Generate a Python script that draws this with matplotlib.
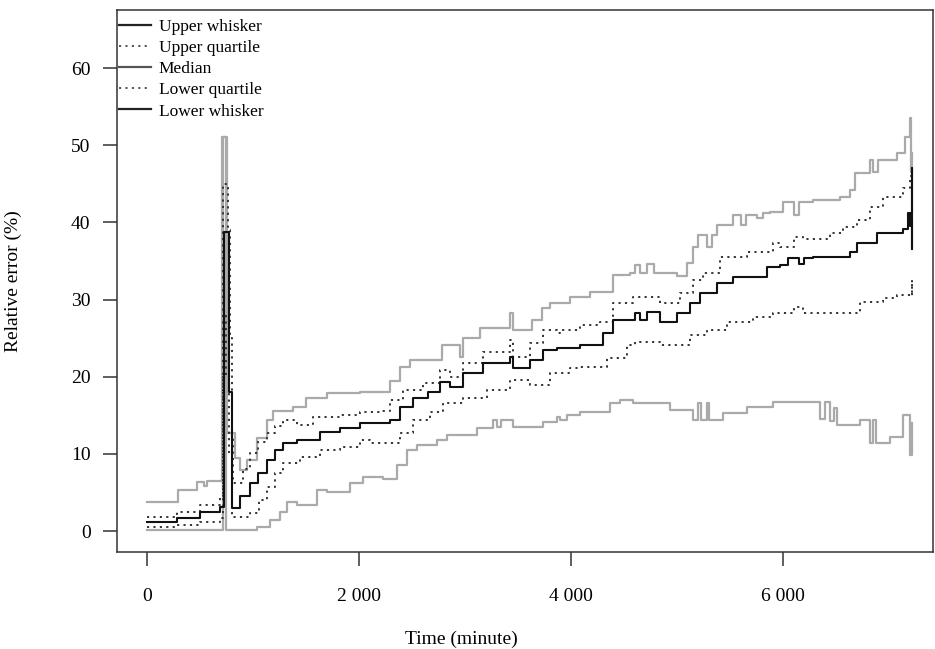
import matplotlib
matplotlib.use("Agg")
import matplotlib.pyplot as plt
from matplotlib.lines import Line2D

# step data: time (minute) -> relative error (%)
uw_t = [0, 292, 472, 540, 566, 708, 755, 830, 877, 943, 1040, 1132, 1189, 1377,
        1500, 1698, 2009, 2292, 2387, 2481, 2783, 2953, 2981, 3142, 3425, 3453,
        3632, 3726, 3802, 3991, 4179, 4396, 4557, 4600, 4650, 4717, 4780, 5000,
        5094, 5151, 5198, 5283, 5330, 5377, 5528, 5600, 5650, 5750, 5811, 5880,
        6000, 6100, 6150, 6283, 6538, 6632, 6679, 6821, 6850, 6900, 7075, 7151,
        7198, 7212, 7220]
uw_v = [3.8, 5.3, 6.3, 5.8, 6.5, 51.0, 12.7, 9.5, 7.9, 9.2, 12.0, 14.4, 15.5, 16.1,
        17.2, 17.9, 18.0, 19.5, 21.2, 22.2, 24.1, 22.6, 25.0, 26.3, 28.2, 26.0,
        27.3, 28.9, 29.5, 30.3, 31.0, 33.2, 33.4, 34.5, 33.4, 34.6, 33.4, 33.0,
        34.7, 36.8, 38.3, 36.8, 38.3, 39.6, 40.9, 39.6, 40.9, 40.5, 41.2, 41.3,
        42.6, 41.0, 42.6, 42.9, 43.3, 44.2, 46.4, 48.1, 46.5, 48.1, 49.0, 51.0,
        53.5, 46.5, 49.0]

uq_t = [0, 283, 500, 689, 717, 764, 783, 802, 811, 906, 972, 1050, 1132, 1210,
        1283, 1415, 1566, 1821, 2009, 2200, 2292, 2415, 2604, 2764, 2858, 2981,
        3170, 3425, 3453, 3613, 3736, 3868, 3896, 4085, 4274, 4396, 4585, 4840,
        5028, 5151, 5245, 5406, 5660, 5906, 5972, 6100, 6189, 6443, 6566, 6698,
        6821, 6943, 7132, 7200, 7214, 7220]
uq_v = [1.8, 2.5, 3.4, 4.3, 45.0, 39.0, 25.0, 12.0, 6.2, 8.0, 10.1, 11.5, 12.7, 13.6,
        14.4, 13.7, 14.8, 15.0, 15.4, 15.5, 17.0, 18.3, 19.2, 20.9, 20.0, 21.8,
        23.2, 24.7, 22.5, 24.4, 26.0, 25.6, 26.0, 26.7, 27.1, 29.5, 30.3, 29.5,
        30.8, 32.5, 33.5, 35.5, 36.1, 37.3, 36.8, 38.1, 37.9, 38.6, 39.4, 40.3,
        42.0, 43.3, 44.4, 46.0, 41.0, 44.0]

md_t = [0, 283, 500, 689, 727, 774, 802, 877, 972, 1047, 1132, 1208, 1283, 1415,
        1632, 1821, 2009, 2292, 2387, 2509, 2650, 2764, 2858, 2981, 3170, 3425,
        3453, 3613, 3736, 3868, 4085, 4302, 4396, 4600, 4650, 4717, 4840, 5000,
        5123, 5217, 5377, 5528, 5849, 5972, 6050, 6150, 6200, 6283, 6632, 6698,
        6887, 7132, 7180, 7200, 7210, 7215, 7218, 7220]
md_v = [1.2, 1.7, 2.5, 3.1, 38.7, 18.0, 3.0, 4.5, 6.2, 7.5, 9.2, 10.5, 11.4, 11.8,
        12.8, 13.3, 14.0, 14.4, 16.1, 17.2, 18.0, 19.3, 18.7, 20.5, 21.8, 22.5,
        21.1, 22.2, 23.4, 23.7, 24.1, 25.6, 27.3, 28.2, 27.3, 28.4, 27.1, 28.2,
        29.5, 30.8, 32.1, 32.9, 34.2, 34.5, 35.4, 34.6, 35.4, 35.5, 36.1, 37.3,
        38.6, 39.2, 41.2, 39.5, 41.2, 47.0, 36.5, 40.0]

lq_t = [0, 283, 500, 689, 717, 745, 774, 802, 972, 1060, 1132, 1210, 1283, 1443,
        1632, 1821, 2009, 2100, 2387, 2509, 2670, 2792, 2981, 3208, 3425, 3613,
        3802, 3991, 4085, 4340, 4528, 4600, 4840, 5123, 5283, 5472, 5717, 5906,
        6100, 6189, 6726, 6943, 7075, 7214, 7220]
lq_v = [0.5, 0.8, 1.2, 1.7, 20.0, 28.0, 10.0, 1.8, 2.3, 4.0, 5.7, 7.5, 8.8, 9.6,
        10.5, 10.9, 11.8, 11.4, 12.7, 14.4, 15.4, 16.6, 17.2, 18.3, 19.6, 18.9,
        20.5, 21.1, 21.2, 22.4, 24.1, 24.5, 24.1, 25.4, 26.0, 27.1, 27.7, 28.2,
        29.0, 28.2, 29.7, 30.2, 30.6, 32.5, 30.3]

lw_t = [0, 717, 745, 1038, 1160, 1255, 1321, 1415, 1604, 1700, 1915, 2038, 2226,
        2358, 2453, 2547, 2736, 2830, 3113, 3264, 3300, 3340, 3453, 3736, 3868,
        3896, 3962, 4085, 4368, 4462, 4585, 4934, 5151, 5200, 5230, 5280, 5300,
        5434, 5660, 5906, 6349, 6400, 6443, 6480, 6509, 6726, 6821, 6850, 6880,
        7009, 7132, 7200, 7220]
lw_v = [0.1, 51.0, 0.1, 0.5, 1.4, 2.5, 3.8, 3.4, 5.3, 5.0, 6.2, 7.0, 6.8,
        8.5, 10.5, 11.1, 11.8, 12.4, 13.3, 14.4, 13.5, 14.4, 13.5, 14.1, 14.8,
        14.4, 15.0, 15.4, 16.6, 17.0, 16.6, 15.7, 14.4, 16.6, 14.4, 16.6, 14.4,
        15.3, 16.1, 16.7, 14.5, 16.7, 14.2, 16.0, 13.7, 14.4, 11.4, 14.4, 11.4,
        12.2, 15.0, 9.8, 14.0]

x_ticks = [0, 2000, 4000, 6000]
x_tick_labels = ["0", "2 000", "4 000", "6 000"]
y_ticks = [0, 10, 20, 30, 40, 50, 60]
legend_labels = ["Upper whisker", "Upper quartile", "Median",
                 "Lower quartile", "Lower whisker"]


def main():
    plt.rcParams["font.family"] = ["Liberation Serif", "DejaVu Serif"]

    fig = plt.figure(figsize=(9.35, 6.49), dpi=100)
    ax = fig.add_axes([117 / 935, 1 - 552 / 649, 816 / 935, 542 / 649])

    gray = "#aaaaaa"
    dots = (0, (1.1, 2.2))
    ax.step(lw_t, lw_v, where="post", color=gray, lw=1.6)
    ax.step(uw_t, uw_v, where="post", color=gray, lw=1.6)
    ax.step(lq_t, lq_v, where="post", color="#333333", lw=1.4, linestyle=dots)
    ax.step(uq_t, uq_v, where="post", color="#333333", lw=1.4, linestyle=dots)
    ax.step(md_t, md_v, where="post", color="#111111", lw=1.5)

    ax.set_xlim(-283, 7415)
    ax.set_ylim(-2.72, 67.52)

    ax.set_xticks(x_ticks)
    ax.set_xticklabels(x_tick_labels)
    ax.set_yticks(y_ticks)
    ax.tick_params(direction="out", length=10, width=1.1, color="#333333",
                   labelsize=14)
    ax.tick_params(axis="x", pad=16)
    ax.tick_params(axis="y", pad=9)

    for sp in ax.spines.values():
        sp.set_color("#333333")
        sp.set_linewidth(1.1)

    ax.set_xlabel("Time (minute)", fontsize=14)
    ax.xaxis.set_label_coords(0.4216, -0.145)
    ax.set_ylabel("Relative error (%)", fontsize=14)
    ax.yaxis.set_label_coords(-0.117, 0.5)

    # legend uses proxy lines (drawn darker than the plotted whiskers)
    handles = [
        Line2D([], [], color="#222222", lw=1.6),
        Line2D([], [], color="#555555", lw=1.4, linestyle=dots),
        Line2D([], [], color="#555555", lw=1.6),
        Line2D([], [], color="#555555", lw=1.4, linestyle=dots),
        Line2D([], [], color="#222222", lw=1.6),
    ]
    ax.legend(handles, legend_labels, loc="upper left",
              bbox_to_anchor=(0.002, 0.984), frameon=False, fontsize=12.5,
              borderpad=0, borderaxespad=0, labelspacing=0.29,
              handlelength=1.85, handletextpad=0.45)

    fig.savefig("out.png", dpi=100)


if __name__ == "__main__":
    main()
